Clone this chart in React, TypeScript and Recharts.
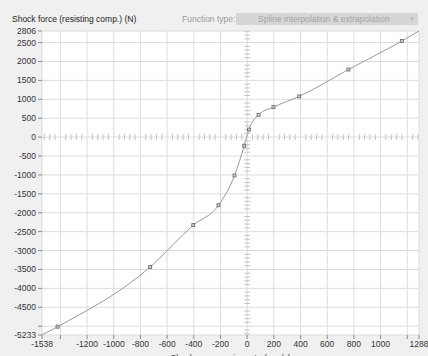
import React from 'react';
import {
  ComposedChart,
  CartesianGrid,
  XAxis,
  YAxis,
  Line,
  Scatter,
} from 'recharts';

// measured points (mm/s, N)
const rateMeasured = [-1421, -727, -404, -215, -95, -22, 13, 85, 197, 390, 759, 1159];
const forceMeasured = [-5013, -3436, -2327, -1803, -1016, -226, 199, 590, 793, 1077, 1787, 2540];

// extrapolated ends of the curve (axis limits)
const rateEnds = [-1538, 1288];
const forceEnds = [-5233, 2806];

const xTicks = [-1538, -1400, -1200, -1000, -800, -600, -400, -200, 0, 200, 400, 600, 800, 1000, 1200, 1288];
const yTicks = [2806, 2500, 2000, 1500, 1000, 500, 0, -500, -1000, -1500, -2000, -2500, -3000, -3500, -4000, -4500, -5000, -5233];
const xHidden = [-1400, 1200];
const yHidden = [-5000];

const measured = rateMeasured.map((r, i) => ({ rate: r, force: forceMeasured[i] }));
const curve = [
  { rate: rateEnds[0], force: forceEnds[0] },
  ...measured,
  { rate: rateEnds[1], force: forceEnds[1] },
];

// minor ticks on the zero axes
const minorX: { rate: number; force: number }[] = [];
for (let r = -1520; r <= 1280; r += 40) {
  if (r % 200 !== 0) minorX.push({ rate: r, force: 0 });
}
const minorY: { rate: number; force: number }[] = [];
for (let f = -5200; f <= 2800; f += 100) {
  if (f % 500 !== 0) minorY.push({ rate: 0, force: f });
}

const font = '"Liberation Sans", Arial, sans-serif';
const tickStyle = { fontSize: 8.5, fill: '#333', fontFamily: font };

const Square = (props: any) => {
  const { cx, cy } = props;
  return <rect x={cx - 1.5} y={cy - 1.5} width={3} height={3} fill="#ccc" stroke="#666" strokeWidth={0.8} />;
};
const VTick = (props: any) => {
  const { cx, cy } = props;
  return <line x1={cx} x2={cx} y1={cy - 3} y2={cy + 3} stroke="#c4c4c4" strokeWidth={1} />;
};
const HTick = (props: any) => {
  const { cx, cy } = props;
  return <line x1={cx - 3} x2={cx + 3} y1={cy} y2={cy} stroke="#c4c4c4" strokeWidth={1} />;
};

export default function App() {
  return (
    <div
      style={{
        position: 'relative',
        width: 428,
        height: 356,
        background: '#f0f0f0',
        overflow: 'hidden',
        fontFamily: font,
      }}
    >
      <style>{'body{margin:0}'}</style>
      <div style={{ position: 'absolute', left: 12, top: 14, fontSize: 8.5, color: '#222', whiteSpace: 'nowrap' }}>
        Shock force (resisting comp.) (N)
      </div>
      <div style={{ position: 'absolute', left: 182, top: 14, fontSize: 8.5, color: '#9a9a9a', whiteSpace: 'nowrap' }}>
        Function type:
      </div>
      <div
        style={{
          position: 'absolute',
          left: 236,
          top: 13,
          width: 182,
          height: 12,
          background: '#d6d6d6',
          fontSize: 8.5,
          color: '#a4a4a4',
          lineHeight: '12px',
          whiteSpace: 'nowrap',
        }}
      >
        <span style={{ position: 'absolute', left: 22 }}>Spline interpolation &amp; extrapolation</span>
        <span style={{ position: 'absolute', right: 3, fontSize: 6, color: '#b4b4b4' }}>▼</span>
      </div>
      <div style={{ position: 'absolute', left: 0, top: 0 }}>
        <ComposedChart width={428} height={372} margin={{ top: 31, right: 9, bottom: 4, left: 4 }}>
          <CartesianGrid stroke="#dcdcdc" fill="#ffffff" fillOpacity={1} />
          <XAxis
            dataKey="rate"
            type="number"
            domain={[rateEnds[0], rateEnds[1]]}
            ticks={xTicks}
            interval={0}
            allowDataOverflow
            axisLine={false}
            tickLine={{ stroke: '#888' }}
            tickSize={4}
            tickMargin={2}
            height={33}
            tick={tickStyle}
            tickFormatter={(v: number) => (xHidden.includes(v) ? '' : String(v))}
            label={{
              value: 'Shock compression rate (mm/s)',
              position: 'insideBottom',
              offset: 7,
              style: { fontSize: 8.5, fill: '#333', fontFamily: font },
            }}
          />
          <YAxis
            dataKey="force"
            type="number"
            domain={[forceEnds[0], forceEnds[1]]}
            ticks={yTicks}
            interval={0}
            allowDataOverflow
            axisLine={false}
            tickLine={{ stroke: '#888' }}
            tickSize={4}
            tickMargin={2}
            width={38}
            tick={tickStyle}
            tickFormatter={(v: number) => (yHidden.includes(v) ? '' : String(v))}
          />
          <Scatter data={minorX} dataKey="force" shape={<VTick />} isAnimationActive={false} />
          <Scatter data={minorY} dataKey="force" shape={<HTick />} isAnimationActive={false} />
          <Line
            data={curve}
            dataKey="force"
            type="monotone"
            stroke="#999"
            strokeWidth={1}
            dot={false}
            activeDot={false}
            isAnimationActive={false}
          />
          <Scatter data={measured} dataKey="force" shape={<Square />} isAnimationActive={false} />
        </ComposedChart>
      </div>
    </div>
  );
}
